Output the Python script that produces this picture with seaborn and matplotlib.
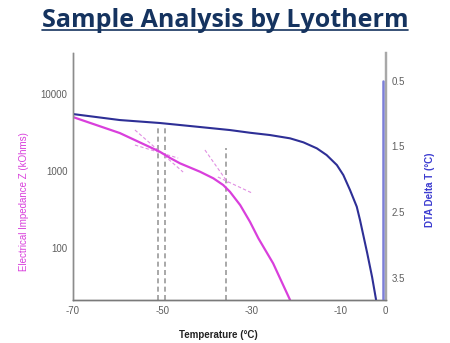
import numpy as np
import pandas as pd
import matplotlib
matplotlib.use("Agg")
import matplotlib.pyplot as plt
from matplotlib.lines import Line2D
import seaborn as sns

# ---- data ----
title = "Sample Analysis by Lyotherm"
x_ticks = [-70, -50, -30, -10, 0]
z_ticks = [100, 1000, 10000]
dta_ticks = [0.5, 1.5, 2.5, 3.5]

# Electrical impedance Z (kOhms), left log axis
z_temp = [-70, -59.5, -50.5, -48.2, -46.0, -41.5, -38.5, -36.3, -34.8, -32.5, -30.3, -28.4, -25.1, -21.3]
z_vals = [5080, 3150, 1800, 1493, 1274, 991, 813, 666, 545, 366, 222, 135, 64, 21.4]

# DTA Delta T (°C), right inverted axis
dta_temp = [-70, -59.5, -50.5, -41.5, -34.8, -30.3, -25.8, -21.3, -18.3, -15.3, -13.1,
            -10.8, -9.35, -7.85, -6.34, -5.61, -4.0, -2.9, -2.0]
dta_vals = [1.008, 1.099, 1.144, 1.205, 1.251, 1.292, 1.327, 1.377, 1.438, 1.529, 1.631,
            1.783, 1.935, 2.163, 2.416, 2.619, 3.12, 3.485, 3.834]

# DTA spike near 0 °C
spike_temp = [-0.45, -0.45]
spike_vals = [3.9, 0.5]

# tangent construction lines (temp pairs, Z pairs)
tangent_temp = [[-56.1, -45.3], [-56.1, -46.4], [-40.4, -35.2], [-37.5, -29.8]]
tangent_z = [[3450, 982], [2200, 1490], [1897, 707], [846, 523]]

# vertical markers (temperature, top Z value)
marker_temp = [-51.0, -49.4, -35.7]
marker_top = [4010, 4010, 2014]

# ---- style ----
sns.set_theme(style="white")
plt.rcParams["font.family"] = ["Liberation Sans", "DejaVu Sans"]

W, H = 450, 343
fig = plt.figure(figsize=(W / 100, H / 100), dpi=100)
ax = fig.add_axes([73 / W, 1 - 300 / H, (386 - 73) / W, (300 - 53) / H])

magenta = "#d93fdc"
navy = "#2e2f96"
spike_col = "#7c7fd8"
tick_col = "#5e5e5e"

ax.set_yscale("log")
ax.set_xlim(-70, 0.22)
ax.set_ylim(21.4, 34500)

# vertical dashed markers
for t, top in zip(marker_temp, marker_top):
    sns.lineplot(x=[t, t], y=[10, top], ax=ax, color="#9a9a9a", lw=1.2,
                 linestyle=(0, (3, 2)), estimator=None, sort=False)

# tangents
for tt, zz in zip(tangent_temp, tangent_z):
    sns.lineplot(x=tt, y=zz, ax=ax, color="#e08ee2", lw=0.8,
                 linestyle=(0, (3, 2)), estimator=None, sort=False)

sns.lineplot(x=z_temp, y=z_vals, ax=ax, color=magenta, lw=1.6, estimator=None, sort=False)

ax2 = ax.twinx()
ax2.set_ylim(3.834, 0.08)
sns.lineplot(x=dta_temp, y=dta_vals, ax=ax2, color=navy, lw=1.5, estimator=None, sort=False)
sns.lineplot(x=spike_temp, y=spike_vals, ax=ax2, color=spike_col, lw=1.8, estimator=None, sort=False)
ax2.set_xlim(-70, 0.22)

# ticks
ax.set_xticks(x_ticks)
ax.set_xticklabels([str(v) for v in x_ticks])
ax.set_yticks(z_ticks)
ax.set_yticklabels([str(v) for v in z_ticks])
ax.yaxis.set_minor_locator(matplotlib.ticker.NullLocator())
ax2.set_yticks(dta_ticks)
ax2.set_yticklabels([str(v) for v in dta_ticks])
for a in (ax, ax2):
    a.tick_params(axis="both", length=0, labelsize=7, colors=tick_col, pad=4)
    a.grid(False)

# spines
for a in (ax, ax2):
    a.spines["top"].set_visible(False)
    a.spines["left"].set_color("#8c8c8c")
    a.spines["bottom"].set_color("#7a7a7a")
    a.spines["right"].set_color("#a8a8a8")
    a.spines["left"].set_linewidth(1.0)
    a.spines["bottom"].set_linewidth(1.0)
    a.spines["right"].set_linewidth(1.6)

ax.set_xlabel("Temperature (°C)", fontsize=7, fontweight="bold", color="#222222")
ax.xaxis.set_label_coords(0.466, -0.12)
ax.set_ylabel("Electrical Impedance Z (kOhms)", fontsize=7, color=magenta)
ax.yaxis.set_label_coords(-0.14, 0.397)
ax2.set_ylabel("DTA Delta T (°C)", fontsize=7, fontweight="bold", color="#3b3bd0", rotation=90)
ax2.yaxis.set_label_coords(1.125, 0.445)

# title with underline
t = fig.text(0.5, 1 - 27 / H, title, ha="center", va="baseline",
             fontsize=18, fontweight="bold", color="#15335f", family="Open Sans")
fig.canvas.draw()
bb = t.get_window_extent()
fig.add_artist(Line2D([bb.x0 / W, bb.x1 / W], [1 - 29.5 / H, 1 - 29.5 / H],
                      transform=fig.transFigure, color="#15335f", lw=1.2))

fig.savefig("out.png", dpi=100)
